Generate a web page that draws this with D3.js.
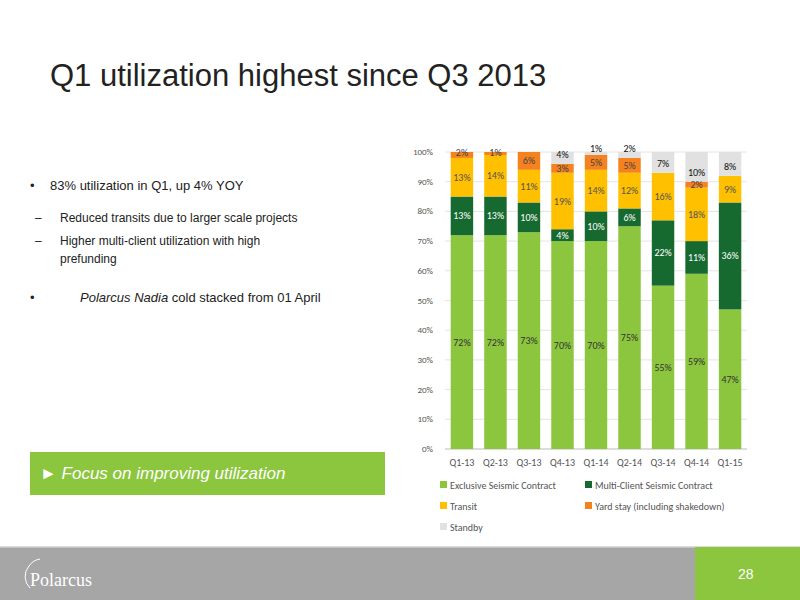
<!DOCTYPE html><html><head><meta charset="utf-8"><script src="https://cdn.jsdelivr.net/npm/d3@7"></script>
<style>body{margin:0;background:#fff}svg{display:block}</style></head><body>
<svg id="c" width="800" height="600"></svg>
<script>
const categories=["Q1-13","Q2-13","Q3-13","Q4-13","Q1-14","Q2-14","Q3-14","Q4-14","Q1-15"];
const seriesNames=["Exclusive Seismic Contract","Multi-Client Seismic Contract","Transit","Yard stay (including shakedown)","Standby"];
const exclusive=[72,72,73,70,70,75,55,59,47];
const multiClient=[13,13,10,4,10,6,22,11,36];
const transit=[13,14,11,19,14,12,16,18,9];
const yard=[2,1,6,3,5,5,0,2,0];
const standby=[0,0,0,4,1,2,7,10,8];
const yTicks=[0,10,20,30,40,50,60,70,80,90,100];
const colors=["#8cc63e","#166a2f","#ffc000","#f5821f","#e1e1e1"];
const labelColors=["#333","#fff","#555","#444","#111"];
const series=[exclusive,multiClient,transit,yard,standby];
const svg=d3.select("#c");
const F="Liberation Sans, Arial, sans-serif";
svg.append("text").attr("x",50).attr("y",86).attr("font-family",F).attr("font-size",31).attr("fill","#222").text("Q1 utilization highest since Q3 2013");
const bl=[[30,190,"•",13],[50,190,"83% utilization in Q1, up 4% YOY",13],[30,302,"•",13],
 [35,222,"–",12],[60,222,"Reduced transits due to larger scale projects",12],
 [35,245,"–",12],[60,245,"Higher multi-client utilization with high",12],[60,263,"prefunding",12]];
bl.forEach(b=>svg.append("text").attr("x",b[0]).attr("y",b[1]).attr("font-family",F).attr("font-size",b[3]).attr("fill","#222").text(b[2]));
const t=svg.append("text").attr("x",80).attr("y",302).attr("font-family",F).attr("font-size",13).attr("fill","#222");
t.append("tspan").attr("font-style","italic").text("Polarcus Nadia");t.append("tspan").text(" cold stacked from 01 April");
svg.append("rect").attr("x",30).attr("y",452).attr("width",355).attr("height",43).attr("fill","#8cc63e");
svg.append("text").attr("x",40).attr("y",479).attr("font-family",F).attr("font-size",17).attr("font-style","italic").attr("fill","#fff").text("► Focus on improving utilization");
svg.append("rect").attr("x",0).attr("y",546).attr("width",800).attr("height",54).attr("fill","#a6a6a6");
svg.append("rect").attr("x",0).attr("y",546).attr("width",800).attr("height",1.5).attr("fill","#ddd");
svg.append("rect").attr("x",695).attr("y",547).attr("width",105).attr("height",53).attr("fill","#8cc63e");
svg.append("text").attr("x",738).attr("y",579).attr("font-family",F).attr("font-size",14).attr("fill","#fff").text("28");
svg.append("text").attr("x",30).attr("y",586).attr("font-family","Liberation Serif, serif").attr("font-size",18).attr("fill","#fff").text("Polarcus");
svg.append("path").attr("d","M30,588 A16,16 0 0 1 29,566 A16,16 0 0 1 40,559").attr("fill","none").attr("stroke","#fff").attr("stroke-width",1);
const x=d3.scaleBand().domain(categories).range([445,747]).paddingInner(0.33).paddingOuter(0.17);
const y=d3.scaleLinear().domain([0,100]).range([449,152]);
const CF="Carlito, Calibri, Liberation Sans, sans-serif";
const g=svg.append("g");
yTicks.forEach(v=>{g.append("line").attr("x1",445).attr("x2",747).attr("y1",y(v)).attr("y2",y(v)).attr("stroke",v==0?"#bbb":"#e4e4e4");
 g.append("text").attr("x",433).attr("y",y(v)+3).attr("text-anchor","end").attr("font-family",CF).attr("font-size",9).attr("fill","#555").text(v+"%");});
const stack=d3.stack().keys(d3.range(5))(categories.map((c,i)=>series.map(s=>s[i])));
stack.forEach((layer,k)=>{layer.forEach((d,i)=>{if(d[1]-d[0]<=0)return;
 g.append("rect").attr("x",x(categories[i])).attr("width",x.bandwidth()).attr("y",y(d[1])).attr("height",y(d[0])-y(d[1])).attr("fill",colors[k]);});});
stack.forEach((layer,k)=>{layer.forEach((d,i)=>{const v=d[1]-d[0];if(v<=0)return;
 let yy=y((d[0]+d[1])/2)+3.5; if(k==4&&v<=2)yy=y(d[1])-0; if(k==4&&v>2)yy=y(d[0])-6;
 if(k==3&&v<=2&&i<2)yy=y(d[1])+4;
 g.append("text").attr("x",x(categories[i])+x.bandwidth()/2).attr("y",yy).attr("text-anchor","middle").attr("font-family",CF).attr("font-size",10).attr("fill",labelColors[k]).text(v+"%");});});
categories.forEach(c=>g.append("text").attr("x",x(c)+x.bandwidth()/2).attr("y",466).attr("text-anchor","middle").attr("font-family",CF).attr("font-size",10).attr("fill","#555").text(c));
const lp=[[440,487],[585,487],[440,508],[585,508],[440,529]];
seriesNames.forEach((n,k)=>{g.append("rect").attr("x",lp[k][0]).attr("y",lp[k][1]-6).attr("width",7).attr("height",7).attr("fill",colors[k]);
 g.append("text").attr("x",lp[k][0]+10).attr("y",lp[k][1]+1.5).attr("font-family",CF).attr("font-size",10).attr("fill","#555").text(n);});
</script></body></html>
